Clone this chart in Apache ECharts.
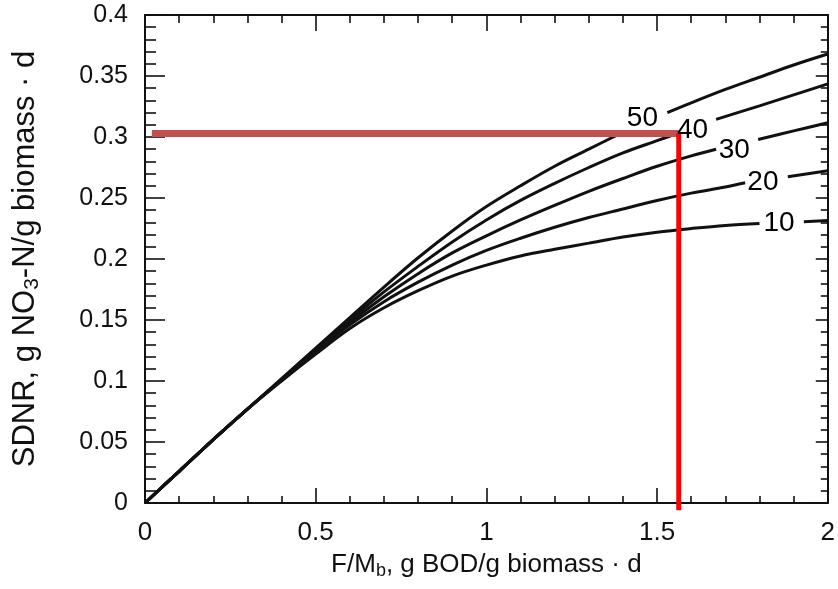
<!DOCTYPE html>
<html><head><meta charset="utf-8">
<script src="https://cdn.jsdelivr.net/npm/echarts@6/dist/echarts.min.js"></script>
<style>html,body{margin:0;padding:0;background:#fff}#c{width:838px;height:589px}</style>
</head><body><div id="c"></div>
<script>
// ---- data ----
const c50x = [0,0.1,0.2,0.3,0.4,0.5,0.6,0.7,0.8,0.9,1.0,1.1,1.2,1.3,1.4,1.45,1.53,1.6,1.7,1.8,1.9,2.0];
const c50y = [0,0.026,0.052,0.077,0.102,0.127,0.152,0.177,0.201,0.223,0.243,0.260,0.276,0.290,0.304,null,0.320,0.328,0.339,0.349,0.359,0.368];
const c40x = [0,0.1,0.2,0.3,0.4,0.5,0.6,0.7,0.8,0.9,1.0,1.1,1.2,1.3,1.4,1.5,1.556,1.6,1.673,1.8,1.9,2.0];
const c40y = [0,0.026,0.052,0.077,0.101,0.126,0.150,0.173,0.194,0.214,0.232,0.248,0.262,0.275,0.287,0.297,0.3025,null,0.3145,0.3255,0.3345,0.3435];
const c30x = [0,0.1,0.2,0.3,0.4,0.5,0.6,0.7,0.8,0.9,1.0,1.1,1.2,1.3,1.4,1.5,1.6,1.673,1.73,1.796,1.9,2.0];
const c30y = [0,0.026,0.052,0.077,0.101,0.125,0.148,0.169,0.188,0.205,0.219,0.232,0.244,0.2555,0.266,0.276,0.2845,0.290,null,0.298,0.305,0.3117];
const c20x = [0,0.1,0.2,0.3,0.4,0.5,0.6,0.7,0.8,0.9,1.0,1.1,1.2,1.3,1.4,1.5,1.6,1.7,1.758,1.82,1.883,2.0];
const c20y = [0,0.026,0.052,0.077,0.101,0.124,0.146,0.165,0.181,0.195,0.207,0.217,0.226,0.234,0.241,0.248,0.254,0.259,0.2625,null,0.2675,0.2724];
const c10x = [0,0.1,0.2,0.3,0.4,0.5,0.6,0.7,0.8,0.9,1.0,1.1,1.2,1.3,1.4,1.5,1.6,1.7,1.8,1.86,1.93,2.0];
const c10y = [0,0.026,0.052,0.077,0.100,0.122,0.143,0.160,0.174,0.186,0.195,0.2025,0.208,0.213,0.218,0.222,0.225,0.2275,0.229,null,0.2305,0.2315];

const curveLabels = ['50','40','30','20','10'];
const curveLabelX = [1.457,1.604,1.726,1.810,1.857];
const curveLabelY = [0.3153,0.3055,0.2888,0.2626,0.2294];

const readX = 1.5635;      // F/Mb read-off
const readY = 0.3029;      // SDNR read-off
const readStartX = 0.02;
const readBottomY = -0.006;

const xTicks = [0,0.5,1,1.5,2];
const yTicks = [0,0.05,0.1,0.15,0.2,0.25,0.3,0.35,0.4];

// ---- chart ----
const FONT = "'Liberation Sans', Arial, Helvetica, sans-serif";
const pairs = (xs, ys) => xs.map((x,i) => ys[i] === null ? [x,'-'] : [x, ys[i]]);
const curves = [[c50x,c50y],[c40x,c40y],[c30x,c30y],[c20x,c20y],[c10x,c10y]];

const chart = echarts.init(document.getElementById('c'), null, {renderer:'canvas'});
const axisLineStyle = {color:'#111', width:2};
const tickStyle = {color:'#111', width:1.6};
const xMin = xTicks[0], xMax = xTicks[xTicks.length-1], xInt = xTicks[1]-xTicks[0];
const yMin = yTicks[0], yMax = yTicks[yTicks.length-1], yInt = yTicks[1]-yTicks[0];

const series = curves.map((c,i) => ({
  type:'line', xAxisIndex:0, yAxisIndex:0, data: pairs(c[0], c[1]),
  showSymbol:false, smooth:0.35, connectNulls:false,
  lineStyle:{color:'#111', width:3}, z:2, animation:false
}));
series.push({
  type:'line', data:[[readStartX, readY],[readX, readY]], showSymbol:false,
  lineStyle:{color:'#c0504d', width:7}, z:4, clip:false, animation:false
});
series.push({
  type:'line', data:[[readX, readY],[readX, readBottomY]], showSymbol:false,
  lineStyle:{color:'#ff0000', width:5}, z:5, clip:false, animation:false
});
series.push({
  type:'scatter', symbolSize:0, z:6, animation:false, silent:true,
  itemStyle:{color:'#111', opacity:1},
  data: curveLabels.map((t,i) => [curveLabelX[i], curveLabelY[i], t]),
  label:{show:true, position:'inside', formatter: p => p.value[2],
         fontSize:28, color:'#000', fontFamily:FONT, textBorderWidth:0, opacity:1}
});

chart.setOption({
  backgroundColor:'#fff',
  animation:false,
  grid:{left:145, right:9, top:15, bottom:86, containLabel:false},
  xAxis:[{
    type:'value', min:xMin, max:xMax, interval:xInt, position:'bottom',
    axisLine:{show:true, onZero:false, lineStyle:axisLineStyle},
    axisTick:{show:true, inside:true, length:15, lineStyle:tickStyle},
    minorTick:{show:true, splitNumber:5, length:7, lineStyle:tickStyle},
    splitLine:{show:false}, minorSplitLine:{show:false},
    axisLabel:{fontSize:26, color:'#111', margin:17, fontFamily:FONT,
      formatter: v => String(v)},
    name:'{n|F/M}{s|b}{n|, g BOD/g biomass · d}', nameLocation:'middle', nameGap:47,
    nameTextStyle:{rich:{
      n:{fontSize:26, color:'#111', fontFamily:FONT},
      s:{fontSize:18, color:'#111', fontFamily:FONT, padding:[12,0,0,0]}
    }}
  },{
    type:'value', min:xMin, max:xMax, interval:xInt, position:'top',
    axisLine:{show:true, onZero:false, lineStyle:axisLineStyle},
    axisTick:{show:true, inside:true, length:16, lineStyle:tickStyle},
    minorTick:{show:true, splitNumber:5, length:8, lineStyle:tickStyle},
    splitLine:{show:false}, axisLabel:{show:false}
  }],
  yAxis:[{
    type:'value', min:yMin, max:yMax, interval:yInt, position:'left',
    axisLine:{show:true, onZero:false, lineStyle:axisLineStyle},
    axisTick:{show:true, inside:true, length:20, lineStyle:tickStyle},
    minorTick:{show:true, splitNumber:5, length:11, lineStyle:tickStyle},
    splitLine:{show:false}, minorSplitLine:{show:false},
    axisLabel:{fontSize:25, color:'#111', margin:17, fontFamily:FONT,
      formatter: v => String(+v.toFixed(2))},
    name:'{n|SDNR, g NO}{s|3}{n|-N/g biomass · d}', nameLocation:'middle', nameGap:102,
    nameRotate:90,
    nameTextStyle:{rich:{
      n:{fontSize:31, color:'#111', fontFamily:FONT},
      s:{fontSize:21, color:'#111', fontFamily:FONT, padding:[15,0,0,0]}
    }}
  },{
    type:'value', min:yMin, max:yMax, interval:yInt, position:'right',
    axisLine:{show:true, onZero:false, lineStyle:axisLineStyle},
    axisTick:{show:true, inside:true, length:12, lineStyle:tickStyle},
    minorTick:{show:true, splitNumber:5, length:7, lineStyle:tickStyle},
    splitLine:{show:false}, axisLabel:{show:false}
  }],
  series
});
</script></body></html>
